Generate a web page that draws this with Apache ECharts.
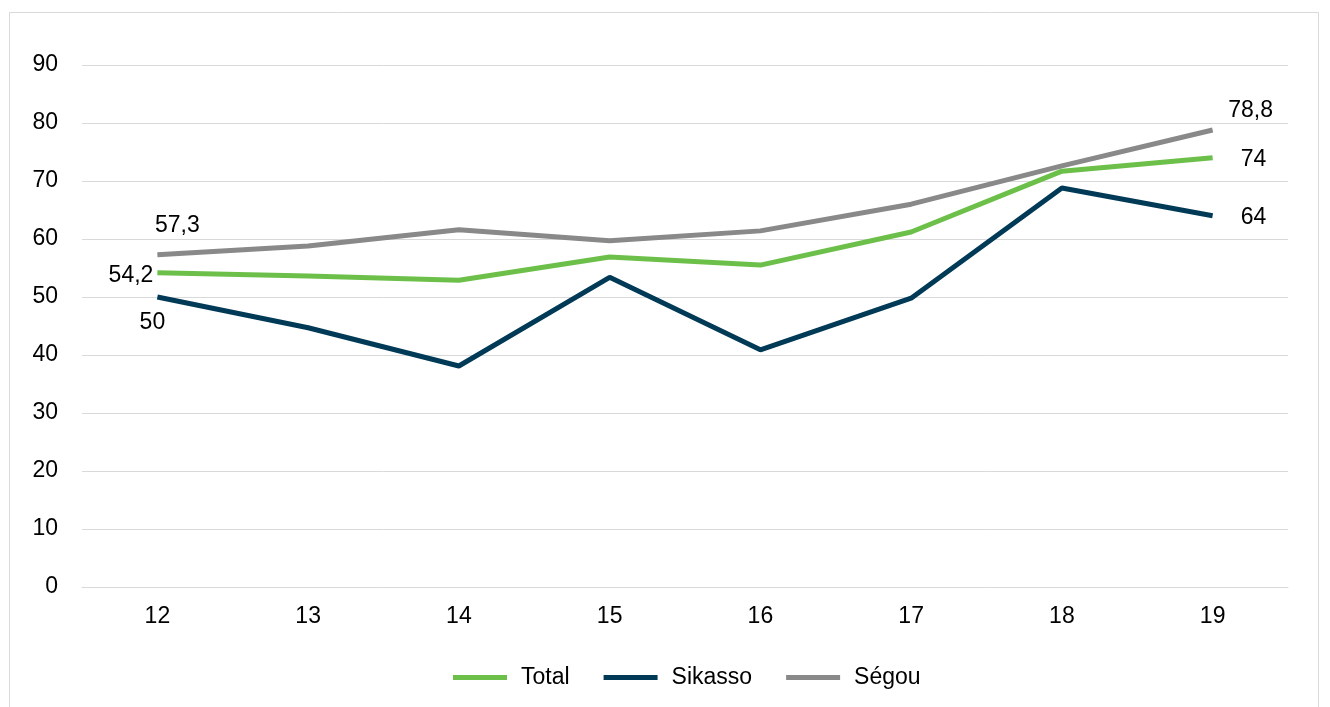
<!DOCTYPE html>
<html>
<head>
<meta charset="utf-8">
<script src="https://cdn.jsdelivr.net/npm/echarts@6/dist/echarts.min.js"></script>
<style>
  html, body { margin: 0; padding: 0; background: #fff; }
  #chart { width: 1330px; height: 707px; }
</style>
</head>
<body>
<div id="chart"></div>
<script>
const categories = ['12', '13', '14', '15', '16', '17', '18', '19'];
const totalValues = [54.2, 53.6, 52.9, 56.9, 55.5, 61.2, 71.7, 74];
const sikassoValues = [50, 44.7, 38.1, 53.4, 40.9, 49.8, 68.8, 64];
const segouValues = [57.3, 58.8, 61.6, 59.7, 61.4, 66, 72.6, 78.8];
const yTicks = [0, 10, 20, 30, 40, 50, 60, 70, 80, 90];

const FONT = '"Liberation Sans", Arial, sans-serif';
const FS = 23;
const fmt = (p) => String(p.value).replace('.', ',');

// only the first and last point carry a label
function withEndLabels(values, firstLabel, lastLabel) {
  return values.map((v, i) => {
    if (i === 0) return { value: v, label: Object.assign({ show: true }, firstLabel) };
    if (i === values.length - 1) return { value: v, label: Object.assign({ show: true }, lastLabel) };
    return v;
  });
}

const labelText = { color: '#000', fontSize: FS, fontFamily: FONT, formatter: fmt };

const chart = echarts.init(document.getElementById('chart'));

function lineSeries(name, color, values, z, firstLabel, lastLabel) {
  return {
    name: name,
    type: 'line',
    symbol: 'circle',
    symbolSize: 0,
    showSymbol: true,
    color: color,
    itemStyle: { color: color },
    lineStyle: { width: 5, color: color },
    label: { show: false },
    z: z,
    data: withEndLabels(values,
      Object.assign({}, labelText, firstLabel),
      Object.assign({}, labelText, lastLabel))
  };
}

const option = {
  animation: false,
  backgroundColor: '#fff',
  graphic: [{
    type: 'rect',
    shape: { x: 9.5, y: 12.5, width: 1309, height: 720 },
    style: { fill: 'none', stroke: '#d9d9d9', lineWidth: 1 },
    silent: true
  }],
  grid: { left: 82, right: 42, top: 65, bottom: 120 },
  legend: {
    bottom: 13,
    left: 448,
    itemWidth: 54,
    itemHeight: 5,
    itemGap: 34,
    icon: 'rect',
    textStyle: { color: '#000', fontSize: FS, fontFamily: FONT, padding: [0, 0, 0, 9] },
    data: ['Total', 'Sikasso', 'Ségou']
  },
  xAxis: {
    type: 'category',
    data: categories,
    boundaryGap: true,
    axisLine: { show: true, lineStyle: { color: '#d9d9d9', width: 1 } },
    axisTick: { show: false },
    axisLabel: { color: '#000', fontSize: FS, fontFamily: FONT, margin: 18 }
  },
  yAxis: {
    type: 'value',
    min: yTicks[0],
    max: yTicks[yTicks.length - 1],
    interval: 10,
    axisLine: { show: false },
    axisTick: { show: false },
    splitLine: { lineStyle: { color: '#d9d9d9', width: 1 } },
    axisLabel: { color: '#000', fontSize: FS, fontFamily: FONT, margin: 24 }
  },
  series: [
    lineSeries('Total', '#6cc04a', totalValues, 3,
      { position: 'left', distance: 4, offset: [0, 3] },
      { position: 'right', distance: 28, offset: [0, 2] }),
    lineSeries('Sikasso', '#003a57', sikassoValues, 2,
      { position: 'bottom', distance: 14, offset: [-5, 0] },
      { position: 'right', distance: 28, offset: [0, 2] }),
    lineSeries('Ségou', '#898989', segouValues, 4,
      { position: 'top', distance: 18, offset: [20, 0] },
      { position: 'top', distance: 8, offset: [38, 0] })
  ]
};

chart.setOption(option);
</script>
</body>
</html>
